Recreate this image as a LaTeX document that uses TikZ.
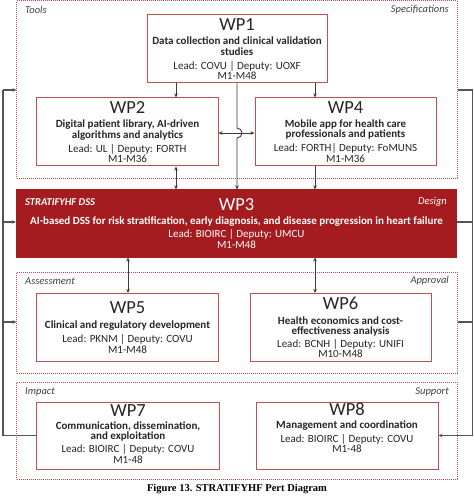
\documentclass[tikz,border=0pt]{standalone}
\usepackage{fontspec}
\setmainfont{Carlito}
\newfontfamily\capfont{Liberation Serif}
\usetikzlibrary{arrows.meta}
\definecolor{boxred}{HTML}{C0504D}
\definecolor{dotred}{HTML}{C0504D}
\definecolor{darkred}{HTML}{A51C20}
\definecolor{linegray}{HTML}{3A3A3A}
\definecolor{outgray}{HTML}{555555}
\tikzset{
  wpbox/.style={draw=boxred, line width=1bp, fill=white, align=center, inner sep=0pt,
    minimum width=181bp, minimum height=68bp, font=\fontsize{11bp}{10.5bp}\selectfont, text=black!85},
  grp/.style={draw=dotred, line width=1bp, dash pattern=on 1bp off 1bp, inner sep=0pt},
  glabel/.style={font=\fontsize{10.5bp}{11bp}\selectfont\itshape, text=black!75, inner sep=0pt},
  arr/.style={draw=linegray, line width=0.9bp, -{Stealth[length=4bp,width=3.5bp]}},
  darr/.style={draw=linegray, line width=0.9bp, {Stealth[length=4bp,width=3.5bp]}-{Stealth[length=4bp,width=3.5bp]}},
  ln/.style={draw=linegray, line width=0.9bp},
  oarr/.style={draw=outgray, line width=1.4bp, -{Stealth[length=4bp,width=3.5bp]}},
  oln/.style={draw=outgray, line width=1.4bp},
}
\newcommand{\wpt}[1]{{\fontsize{18.5bp}{18bp}\selectfont #1}}
\begin{document}
\begin{tikzpicture}[x=1bp,y=-1bp]
\useasboundingbox (0,0) rectangle (474,499);
% groups
\node[grp, minimum width=440bp, minimum height=177bp] (g1) at (237,89.5) {};
\node[grp, minimum width=440bp, minimum height=101bp] (g2) at (237,322.5) {};
\node[grp, minimum width=440bp, minimum height=97bp] (g3) at (237,430.5) {};
\node[glabel, anchor=west] (l1) at (25,10) {Tools};
\node[glabel, anchor=east] (r1) at (449,10) {Specifications};
\node[glabel, anchor=west] (l2) at (25,281) {Assessment};
\node[glabel, anchor=east] (r2) at (449,281) {Approval};
\node[glabel, anchor=west] (l3) at (25,392) {Impact};
\node[glabel, anchor=east] (r3) at (449,392) {Support};
% WP boxes
\node[wpbox, minimum width=180bp] (wp1) at (237,49) {\wpt{WP1}\\[3.7bp]
  \textbf{Data collection and clinical validation}\\ \textbf{studies}\\[3.5bp]
  Lead: COVU | Deputy: UOXF\\ M1-M48};
\node[wpbox] (wp2) at (127.5,132) {\wpt{WP2}\\[3.7bp]
  \textbf{Digital patient library, AI-driven}\\ \textbf{algorithms and analytics}\\[3.5bp]
  Lead: UL | Deputy: FORTH\\ M1-M36};
\node[wpbox] (wp4) at (345.5,132) {\wpt{WP4}\\[3.7bp]
  \textbf{Mobile app for health care}\\ \textbf{professionals and patients}\\[3.5bp]
  Lead: FORTH| Deputy: FoMUNS\\ M1-M36};
\node[draw=darkred, fill=darkred, line width=1bp, minimum width=440bp, minimum height=67bp,
  align=center, inner sep=0pt, text=white, font=\fontsize{11bp}{10.5bp}\selectfont] (wp3) at (236.5,223.5)
  {\wpt{WP3}\\[4bp]
  \textbf{AI-based DSS for risk stratification, early diagnosis, and disease progression in heart failure}\\[2.5bp]
  Lead: BIOIRC | Deputy: UMCU\\ M1-M48};
\node[glabel, anchor=west, text=white] (l4) at (25,202) {\bfseries STRATIFYHF DSS};
\node[glabel, anchor=east, text=white] (r4) at (447,202) {Design};
\node[wpbox] (wp5) at (127.5,327.5) {\wpt{WP5}\\[4bp]
  \textbf{Clinical and regulatory development}\\[4bp]
  Lead: PKNM | Deputy: COVU\\ M1-M48};
\node[wpbox] (wp6) at (340.5,327.5) {\wpt{WP6}\\[3.7bp]
  \textbf{Health economics and cost-}\\ \textbf{effectiveness analysis}\\[2bp]
  Lead: BCNH | Deputy: UNIFI\\ M10-M48};
\node[wpbox, minimum width=182bp, minimum height=67bp] (wp7) at (128,435.5) {\wpt{WP7}\\[2.3bp]
  \textbf{Communication, dissemination,}\\ \textbf{and exploitation}\\[2.8bp]
  Lead: BIOIRC | Deputy: COVU\\ M1-48\\[-7.5bp]\mbox{}};
\node[wpbox, minimum width=182bp, minimum height=67bp] (wp8) at (347,435.5) {\wpt{WP8}\\[2bp]
  \textbf{Management and coordination}\\[3.5bp]
  Lead: BIOIRC | Deputy: COVU\\ M1-48\\[5bp]\mbox{}};
\node[font=\fontsize{10.5bp}{11bp}\selectfont\capfont\bfseries, inner sep=0pt] (cap) at (237,489) {Figure 13. STRATIFYHF Pert Diagram};
% x positions
\coordinate (xa) at (176,0);
\coordinate (xb) at (237,0);
\coordinate (xc) at (315,0);
\coordinate (xd) at (128,0);
\coordinate (yh) at (0,133);
\coordinate (ol) at (3,0);
\coordinate (or) at (472.5,0);
% inner connectors
\draw[arr] (wp1.south -| xa) -- (wp2.north -| xa);
\draw[arr] (wp1.south -| xc) -- (wp4.north -| xc);
\draw[darr] (wp2.east |- yh) -- (wp4.west |- yh);
\draw[arr] (wp1.south -| xb) -- ([yshift=5bp]xb |- yh) arc(90:-90:5bp) -- (wp3.north -| xb);
\draw[darr] (wp2.south -| xa) -- (wp3.north -| xa);
\draw[arr] (wp4.south -| xc) -- (wp3.north -| xc);
\draw[darr] (wp3.south -| xd) -- (wp5.north -| xd);
\draw[darr] (wp3.south -| xc) -- (wp6.north -| xc);
% outer left
\coordinate (yt) at (0,90);
\coordinate (ym) at (0,222);
\coordinate (ya) at (0,322);
\draw[oln] (wp7.west) -- (ol |- wp7.west) -- (ol |- yt);
\draw[oarr] (ol |- yt) -- (g1.west |- yt);
\draw[oarr] (ol |- ym) -- (wp3.west |- ym);
\draw[oarr] (ol |- ya) -- (g2.west |- ya);
% outer right
\draw[oln] (g1.east |- yt) -- (or |- yt) -- (or |- wp8.east);
\draw[oarr] (or |- wp8.east) -- (wp8.east);
\draw[oln] (wp3.east |- ym) -- (or |- ym);
\draw[oln] (g2.east |- ya) -- (or |- ya);
\end{tikzpicture}
\end{document}
